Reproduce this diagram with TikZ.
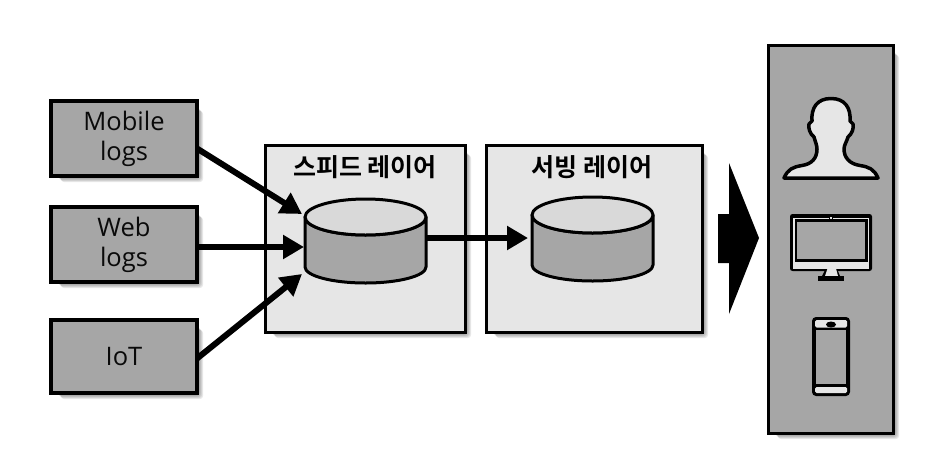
\documentclass[tikz,border=0pt]{standalone}
\usepackage{fontspec}
\setmainfont{Open Sans}
\newfontfamily\krfont{Noto Sans CJK KR}[BoldFont={Noto Sans CJK KR Bold}]
\usetikzlibrary{arrows.meta,backgrounds}
\definecolor{midgray}{HTML}{A6A6A6}
\definecolor{lightgray2}{HTML}{E6E6E6}
\definecolor{topgray}{HTML}{D9D9D9}
\definecolor{inkgray}{HTML}{0A0A0A}
\tikzset{
  srcbox/.style={draw=black,line width=3.5pt,fill=midgray,inner sep=0pt,outer sep=0pt,
    align=center,text=inkgray,font=\fontsize{25.5}{30}\selectfont},
  layerbox/.style={draw=black,line width=3pt,fill=lightgray2,inner sep=0pt,outer sep=0pt},
  layertitle/.style={font=\krfont\bfseries\fontsize{25}{28}\selectfont,text=black,inner sep=0pt},
  flow/.style={line width=6pt,-{Triangle[length=21pt,width=23pt]},black},
  cylslot/.style={inner sep=0pt,outer sep=0pt,minimum width=121pt,minimum height=84pt},
  icon/.style={draw=black,line width=3.5pt,line join=round},
  cylline/.style={draw=black,line width=3pt,line join=round},
}
\newcommand{\cylshape}[1]{%
  \path[cylline,fill=midgray] (#1.north west) ++(0,18)
    -- ++(0,50) arc[start angle=180,end angle=360,x radius=60.5,y radius=-16]
    -- ++(0,-50) arc[start angle=360,end angle=180,x radius=60.5,y radius=-18] -- cycle;
  \path[cylline,fill=topgray] (#1.north west) ++(0,18)
    arc[start angle=180,end angle=540,x radius=60.5,y radius=18] -- cycle;
}
\begin{document}
\begin{tikzpicture}[x=1pt,y=-1pt]
\useasboundingbox (0,0) rectangle (933,471);
\node[layerbox,minimum width=200pt,minimum height=187pt] (speed) at (365,238.5) {};
\node[layerbox,minimum width=216pt,minimum height=187pt] (serving) at (594,238.5) {};
\node[srcbox,minimum width=146pt,minimum height=75pt] (mobile) at (124,138.5) {Mobile\\logs};
\node[srcbox,minimum width=146pt,minimum height=75pt] (web) at (124,244.5) {Web\\logs};
\node[srcbox,minimum width=146pt,minimum height=73pt] (iot) at (124,356.5) {IoT};
\node[layerbox,fill=midgray,minimum width=125pt,minimum height=388pt] (clients) at (830.5,239) {};
\node[layertitle] (speedtitle) at (365,167) {스피드 레이어};
\node[layertitle] (servingtitle) at (592,167) {서빙 레이어};
\node[cylslot] (cyla) at (365.5,241) {};
\node[cylslot] (cylb) at (592.5,239) {};
\cylshape{cyla}
\cylshape{cylb}
\draw[flow] ([shift={(0,10)}]mobile.east) -- ([shift={(-3,15)}]cyla.north west);
\draw[flow] ([shift={(0,2.5)}]web.east) -- ([shift={(-1,6)}]cyla.west);
\draw[flow] ([shift={(0,2)}]iot.east) -- ([shift={(-3,-9)}]cyla.south west);
\draw[flow] ([shift={(0,-3)}]cyla.east) -- ([shift={(-4,-1)}]cylb.west);
% big arrow
\fill[black] (718,214) -- (729,214) -- (729,163) -- (759,238) -- (729,314) -- (729,263) -- (718,263) -- cycle;
% person
\path[icon,fill=lightgray2] (784,178)
  .. controls (788,169) and (793,167) .. (802,165.5)
  .. controls (812,164) and (817,158) .. (817,149)
  .. controls (817,145) and (815,141) .. (814,137)
  .. controls (810,134) and (808,128) .. (809,124)
  .. controls (810,122) and (811,122) .. (812,121)
  .. controls (811,108) and (817,98.5) .. (831,98.5)
  .. controls (845,98.5) and (851,108) .. (850,121)
  .. controls (851,122) and (852,122) .. (853,124)
  .. controls (854,128) and (852,134) .. (848,137)
  .. controls (847,141) and (844,145) .. (844,149)
  .. controls (844,158) and (850,164) .. (860,165.5)
  .. controls (869,167) and (874,169) .. (878,178) -- cycle;
% monitor
\fill[black,rounded corners=2.5pt] (790,214) rectangle (872,271);
\fill[lightgray2] (793,217.5) rectangle (869,268.5);
\fill[black] (794.5,218.5) rectangle (868,262);
\fill[midgray] (797,222) rectangle (865,258.7);
\fill[black] (829,214) rectangle (833,221);
\fill[lightgray2] (830.3,216.5) rectangle (831.7,218.5);
\fill[black] (825,270) -- (837.5,270) -- (840,276) -- (822,276) -- cycle;
\fill[lightgray2] (827.5,268.5) -- (836,268.5) -- (838,276) -- (825,276) -- cycle;
\fill[black] (818,275.5) rectangle (844,281);
% phone
\fill[black,rounded corners=4pt] (812,317) rectangle (850,396);
\fill[lightgray2,rounded corners=1.5pt] (815,320) rectangle (847,327.5);
\fill[lightgray2,rounded corners=1.5pt] (815,387) rectangle (847,393);
\fill[midgray] (816,330) rectangle (846,384);
\fill[black] (831,324.5) ellipse[x radius=5,y radius=3];
\begin{scope}[on background layer]
  \foreach \n in {mobile,web,iot,speed,serving,clients}
    \foreach \d in {0,1,...,7}
      \fill[black,opacity=.09,rounded corners=3pt]
        ([shift={(\d+1,\d+1)}]\n.north west) ++(2,2) rectangle ([shift={(\d-1,\d-1)}]\n.south east);
\end{scope}
\end{tikzpicture}
\end{document}
